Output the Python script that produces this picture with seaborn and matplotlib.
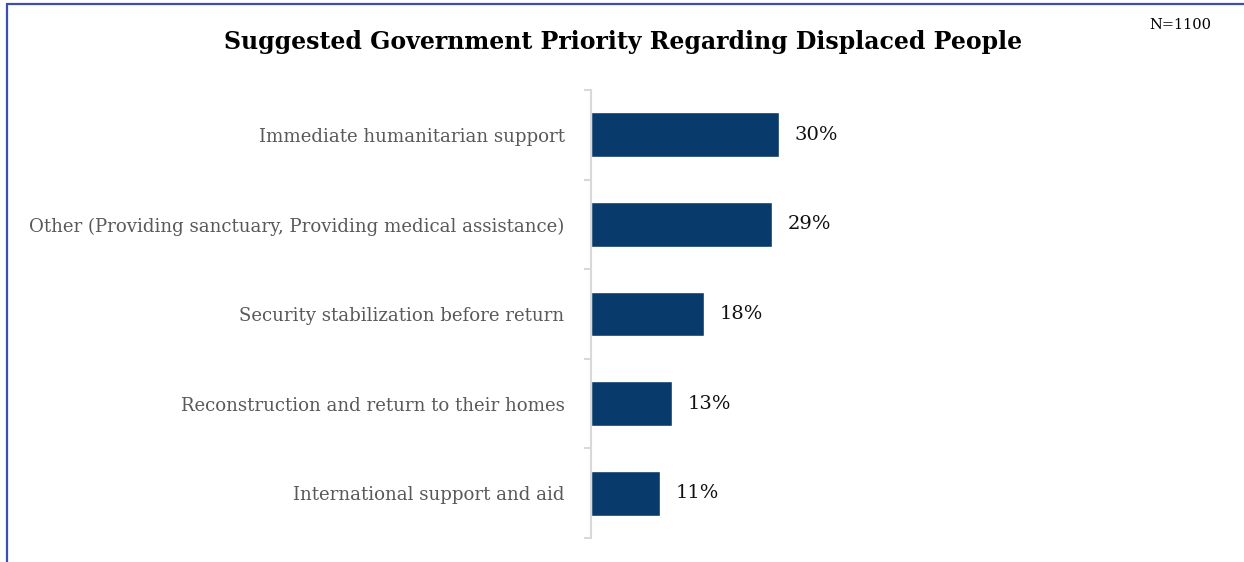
import matplotlib
matplotlib.use("Agg")
import matplotlib.pyplot as plt
from matplotlib.lines import Line2D
import seaborn as sns
import pandas as pd

categories = [
    "Immediate humanitarian support",
    "Other (Providing sanctuary, Providing medical assistance)",
    "Security stabilization before return",
    "Reconstruction and return to their homes",
    "International support and aid",
]
values = [30, 29, 18, 13, 11]
title = "Suggested Government Priority Regarding Displaced People"
sample_note = "N=1100"

sns.set_theme(style="white")
plt.rcParams["font.family"] = ["DejaVu Serif"]

W, H = 1244, 562
fig = plt.figure(figsize=(W / 100, H / 100), dpi=100)
ax = fig.add_axes([591 / W, 24 / H, 600 / W, 448 / H])

df = pd.DataFrame({"category": categories, "value": values})
sns.barplot(data=df, x="value", y="category", orient="h", color="#083A6B",
            width=0.5, saturation=1, ax=ax)

ax.set_xlim(0, 600 / 6.25)
ax.set_ylim(len(categories) - 0.5, -0.5)
ax.set_xlabel("")
ax.set_ylabel("")
ax.set_xticks([])

for s in ["top", "right", "bottom"]:
    ax.spines[s].set_visible(False)
ax.spines["left"].set_color("#d9d9d9")
ax.spines["left"].set_linewidth(1.5)

ax.tick_params(axis="y", which="major", left=False, length=0, pad=19,
               labelsize=13.1, labelcolor="#595959")
ax.set_yticks([i - 0.5 for i in range(len(categories) + 1)], minor=True)
ax.tick_params(axis="y", which="minor", left=True, length=5, width=1.5,
               color="#d9d9d9")

for i, v in enumerate(values):
    ax.text(v + 2.5, i, f"{v}%", va="center", ha="left", fontsize=14,
            color="#111111")

fig.text(623 / W, 1 - 42 / H, title, ha="center", va="center",
         fontsize=17, fontweight="bold", color="black")
fig.text(1180 / W, 1 - 25 / H, sample_note, ha="center", va="center",
         fontsize=10.5, color="black")

# frame lines along the top and left edge
border = "#3A4FB0"
fig.add_artist(Line2D([7 / W, 1], [1 - 4 / H, 1 - 4 / H], color=border,
                      linewidth=1.6, transform=fig.transFigure))
fig.add_artist(Line2D([7 / W, 7 / W], [0, 1 - 4 / H], color=border,
                      linewidth=1.6, transform=fig.transFigure))

fig.savefig("out.png", dpi=100, facecolor="white")
